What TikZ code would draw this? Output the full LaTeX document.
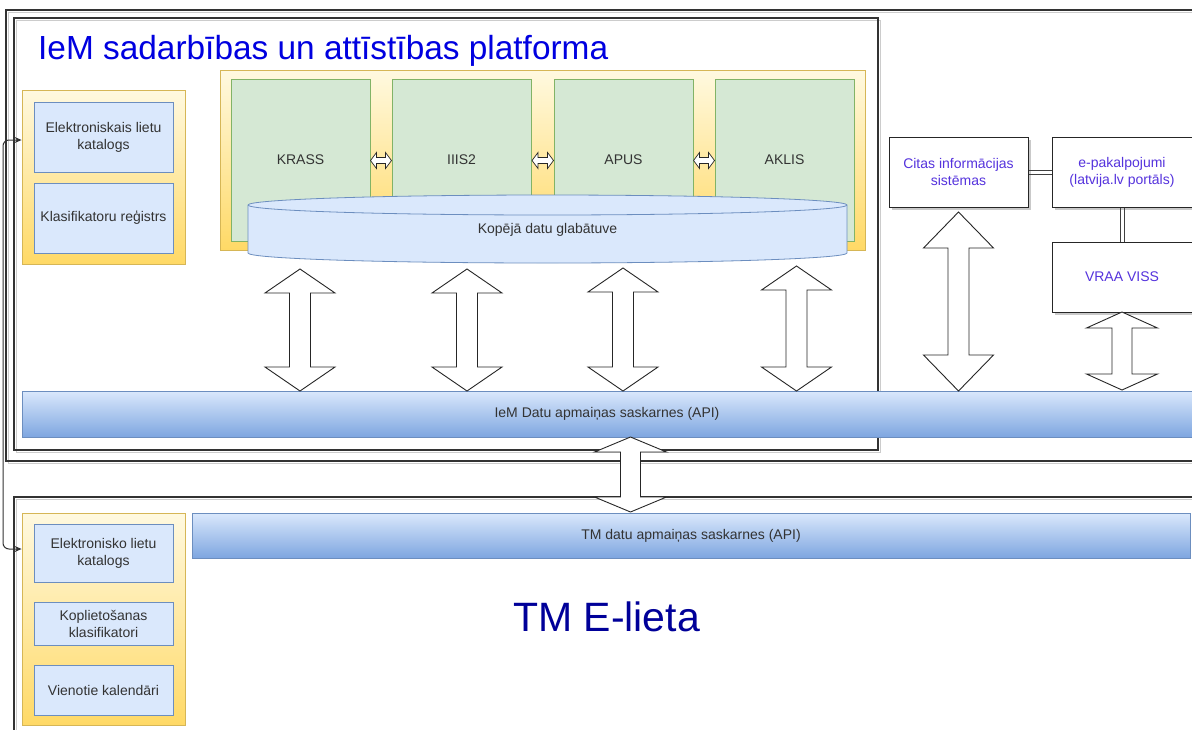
\documentclass[tikz,border=0pt]{standalone}
\usepackage{fontspec}
\setmainfont{Liberation Sans}
\usetikzlibrary{arrows.meta,shadows}
\definecolor{ylwtop}{HTML}{FFF9E0}
\definecolor{ylwbot}{HTML}{FFD966}
\definecolor{ylwline}{HTML}{D6B656}
\definecolor{bluefill}{HTML}{DAE8FC}
\definecolor{blueline}{HTML}{6C8EBF}
\definecolor{apibot}{HTML}{7EA6E0}
\definecolor{grnfill}{HTML}{D5E8D4}
\definecolor{grnline}{HTML}{82B366}
\definecolor{txt}{HTML}{333333}
\definecolor{titleblue}{HTML}{0000E0}
\definecolor{navyblue}{HTML}{000099}
\definecolor{sysviolet}{HTML}{5533DD}
\newcommand\lblfont{\fontsize{14}{17}\selectfont}
\newcommand\vdarr[6]{\draw[bigarrow] (#1,#2) -- (#1+#4,#2+#6) -- (#1+#5,#2+#6) -- (#1+#5,#3-#6) -- (#1+#4,#3-#6) -- (#1,#3) -- (#1-#4,#3-#6) -- (#1-#5,#3-#6) -- (#1-#5,#2+#6) -- (#1-#4,#2+#6) -- cycle;}
\newcommand\hdarr[6]{\draw[smallarrow] (#1,#3) -- (#1+#6,#3-#4) -- (#1+#6,#3-#5) -- (#2-#6,#3-#5) -- (#2-#6,#3-#4) -- (#2,#3) -- (#2-#6,#3+#4) -- (#2-#6,#3+#5) -- (#1+#6,#3+#5) -- (#1+#6,#3+#4) -- cycle;}
\tikzset{
  frm/.style={draw=black!80, line width=1.3pt},
  frmshadow/.style={draw=black!20, line width=1.8pt},
  ylwbox/.style={draw=ylwline, line width=0.8pt, top color=ylwtop, bottom color=ylwbot, inner sep=0pt},
  bluebox/.style={draw=blueline, line width=0.9pt, fill=bluefill, text=txt, align=center, font=\lblfont, minimum width=139pt, inner sep=0pt},
  module/.style={draw=grnline, line width=0.8pt, fill=grnfill, text=txt, font=\lblfont, minimum width=139pt, minimum height=162pt, inner sep=0pt},
  sysbox/.style={draw=black!85, line width=1pt, fill=white, text=sysviolet, align=center, font=\lblfont, minimum width=139pt, minimum height=70pt, inner sep=0pt, drop shadow={shadow xshift=2.5pt, shadow yshift=-2.5pt, fill=black!35, opacity=0.6}},
  apibar/.style={draw=blueline, line width=0.8pt, top color=bluefill, bottom color=apibot, text=txt, font=\lblfont, inner sep=0pt},
  bigarrow/.style={draw=black!85, fill=white, line width=0.9pt, line join=miter},
  smallarrow/.style={draw=black!85, fill=white, line width=0.7pt, line join=miter},
  dline/.style={draw=black!75, line width=0.9pt},
  conn/.style={draw=black!80, line width=1pt, rounded corners=6pt, {Stealth[length=7pt,width=6pt]}-{Stealth[length=7pt,width=6pt]}},
}
\begin{document}
\begin{tikzpicture}[x=1pt, y=-1pt]
\useasboundingbox (0,0) rectangle (1192,729);
\clip (0,0) rectangle (1192,729);
\fill[white] (0,0) rectangle (1192,729);
% frames
\draw[frmshadow] (8.5,12.5) rectangle (1210,463.5);
\draw[frm] (6,10) rectangle (1210,461);
\draw[frmshadow] (16.5,20.5) rectangle (880.5,452.5);
\draw[frm] (14,18) rectangle (878,450);
\draw[frmshadow] (16.5,499.5) rectangle (1210,760);
\draw[frm] (14,497) rectangle (1210,760);
% title
\node[anchor=base west, inner sep=0pt, text=titleblue, font=\fontsize{33.4}{36}\selectfont] (title) at (38,59) {IeM sadarbības un attīstības platforma};
% left registers
\node[ylwbox, minimum width=163pt, minimum height=174pt] (ylw1) at (103.5,177) {};
\node[bluebox, minimum height=70pt] (elk1) at (103.5,137) {Elektroniskais lietu\\katalogs};
\node[bluebox, minimum height=70pt] (klas) at (103.5,218) {Klasifikatoru reģistrs};
% core modules
\node[ylwbox, minimum width=645pt, minimum height=180pt] (core) at (542.5,160) {};
\node[module] (krass) at (300.5,160) {KRASS};
\node[module] (iiis) at (461.5,160) {IIIS2};
\node[module] (apus) at (623.5,160) {APUS};
\node[module] (aklis) at (784.5,160) {AKLIS};
\hdarr{370.5}{391.5}{160.5}{8}{3}{6}
\hdarr{532}{553.5}{160.5}{8}{3}{6}
\hdarr{693.5}{714.5}{160.5}{8}{3}{6}
% storage cylinder
\path[fill=bluefill, draw=blueline, line width=0.8pt] (248,205) -- (248,253) arc[start angle=180, end angle=360, x radius=299.5pt, y radius=10pt] -- (847,205) arc[start angle=0, end angle=180, x radius=299.5pt, y radius=10pt] -- cycle;
\draw[blueline, line width=0.8pt] (248,205) arc[start angle=180, end angle=360, x radius=299.5pt, y radius=10pt];
\node[text=txt, font=\lblfont, inner sep=0pt] (store) at (547.5,230) {Kopējā datu glabātuve};
% external systems
\node[sysbox] (citas) at (958.5,172) {Citas informācijas\\sistēmas};
\node[sysbox, minimum width=140pt] (epak) at (1122,172) {e-pakalpojumi\\(latvija.lv portāls)};
\node[sysbox, minimum width=140pt] (vraa) at (1122,277) {VRAA VISS};
\draw[dline] ([yshift=2pt]citas.east) -- ([yshift=2pt]epak.west);
\draw[dline] ([yshift=-2pt]citas.east) -- ([yshift=-2pt]epak.west);
\draw[dline] ([xshift=-2pt]epak.south) -- ([xshift=-2pt]vraa.north);
\draw[dline] ([xshift=2pt]epak.south) -- ([xshift=2pt]vraa.north);
% API bars
\node[apibar, minimum width=1170pt, minimum height=46pt] (api1) at (607,414) {IeM Datu apmaiņas saskarnes (API)};
\node[apibar, minimum width=998pt, minimum height=45pt] (api2) at (691,535.5) {TM datu apmaiņas saskarnes (API)};
% bottom registers
\node[ylwbox, minimum width=163pt, minimum height=212pt] (ylw2) at (103.5,619) {};
\node[bluebox, minimum height=58pt] (elk2) at (103.5,553) {Elektronisko lietu\\katalogs};
\node[bluebox, minimum height=43pt] (kopl) at (103.5,623.5) {Koplietošanas\\klasifikatori};
\node[bluebox, minimum height=50pt] (vien) at (103.5,690) {Vienotie kalendāri};
\node[anchor=base west, inner sep=0pt, text=navyblue, font=\fontsize{41}{44}\selectfont] (tm) at (513,631) {TM E-lieta};
% big double arrows
\vdarr{300}{269}{391}{35}{10.5}{24}
\vdarr{467}{269}{391}{35}{10.5}{24}
\vdarr{623}{268}{391}{35}{10.5}{24}
\vdarr{796.5}{266}{391}{35}{10.5}{24}
\vdarr{958.5}{212}{391}{35}{10.5}{36}
\vdarr{1122}{312}{390}{35.5}{10}{16}
\vdarr{630.5}{437}{512}{36}{10}{15}
% left connector
\coordinate (lx) at (3,350);
\draw[conn] ([yshift=37pt]ylw1.west) -| (lx) |- ([yshift=70pt]ylw2.west);
\end{tikzpicture}
\end{document}
